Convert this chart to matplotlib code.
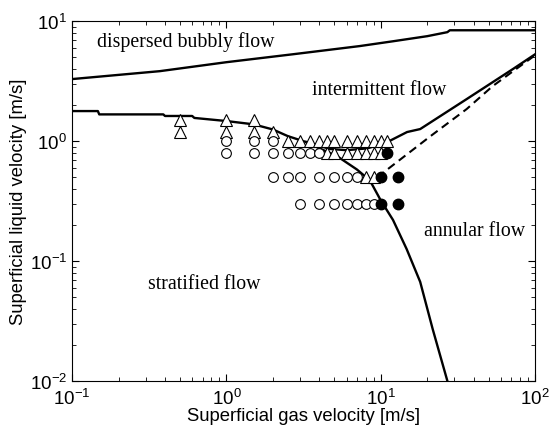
import numpy as np
import matplotlib
matplotlib.use('Agg')
import matplotlib.pyplot as plt

plt.rcParams['font.family'] = ['Liberation Sans', 'DejaVu Sans']
plt.rcParams['mathtext.fontset'] = 'custom'
plt.rcParams['mathtext.rm'] = 'Liberation Sans'
plt.rcParams['mathtext.it'] = 'Liberation Sans'

# limite flujo disperso
disp_x = [0.1, 0.37, 1.0, 2.7, 7.3, 12, 20, 27, 28, 100]
disp_y = [3.29, 3.83, 4.55, 5.3, 6.2, 6.8, 7.5, 8.1, 8.4, 8.4]

# limite estratificado / intermitente / anular
estr_x = [0.1, 0.147, 0.15, 0.39, 0.4, 0.6, 0.62, 1.0, 1.5, 2.0, 2.5, 3.3]
estr_y = [1.78, 1.78, 1.67, 1.67, 1.62, 1.62, 1.56, 1.47, 1.38, 1.25, 1.1, 0.98]

inter_x = [3.3, 4.7, 6.0, 8.2, 11, 14.8, 18, 36, 72, 100]
inter_y = [0.98, 0.86, 0.84, 0.87, 0.98, 1.19, 1.26, 2.24, 4.0, 5.3]

anul_x = [3.3, 4.0, 5.2, 7.0, 8.5, 10, 12, 14.7, 18, 21.7, 27]
anul_y = [0.98, 0.87, 0.75, 0.58, 0.47, 0.32, 0.22, 0.126, 0.067, 0.027, 0.01]

dash_x = [9.5, 21, 36, 53, 72, 100]
dash_y = [0.5, 1.1, 1.85, 2.87, 3.83, 5.2]

# datos experimentales
tri_x = [0.5, 1, 1.5, 0.5, 1, 1.5, 2,
         2.5, 3, 3.5, 4, 4.5, 5, 6, 7, 8, 9, 10, 11,
         4.5, 5, 6, 7, 8, 9, 10,
         8, 9]
tri_y = [1.5, 1.5, 1.5, 1.2, 1.2, 1.2, 1.2,
         1.0, 1.0, 1.0, 1.0, 1.0, 1.0, 1.0, 1.0, 1.0, 1.0, 1.0, 1.0,
         0.8, 0.8, 0.8, 0.8, 0.8, 0.8, 0.8,
         0.5, 0.5]

circ_x = [1, 1.5, 2,
          1, 1.5, 2, 2.5, 3, 3.5, 4,
          2, 2.5, 3, 4, 5, 6, 7,
          3, 4, 5, 6, 7, 8, 9]
circ_y = [1.0, 1.0, 1.0,
          0.8, 0.8, 0.8, 0.8, 0.8, 0.8, 0.8,
          0.5, 0.5, 0.5, 0.5, 0.5, 0.5, 0.5,
          0.3, 0.3, 0.3, 0.3, 0.3, 0.3, 0.3]

fill_x = [11, 10, 13, 10, 13]
fill_y = [0.8, 0.5, 0.5, 0.3, 0.3]

fig = plt.figure(figsize=(5.5, 4.35), dpi=100)
ax = fig.add_axes([0.131, 0.122, 0.842, 0.827])

ax.plot(disp_x, disp_y, 'k-', lw=1.7)
ax.plot(estr_x, estr_y, 'k-', lw=1.7)
ax.plot(inter_x, inter_y, 'k-', lw=1.7)
ax.plot(anul_x, anul_y, 'k-', lw=1.7)
ax.plot(dash_x, dash_y, 'k--', lw=1.5, dashes=(4, 2.5))

ax.plot(tri_x, tri_y, '^', ms=8.5, mfc='white', mec='k', mew=0.8, ls='none')
ax.plot(circ_x, circ_y, 'o', ms=7, mfc='white', mec='k', mew=0.8, ls='none')
ax.plot(fill_x, fill_y, 'o', ms=7.5, mfc='k', mec='k', ls='none')

ax.set_xscale('log')
ax.set_yscale('log')
ax.set_xlim(0.1, 100)
ax.set_ylim(0.01, 10)

ax.tick_params(which='both', direction='in', top=True, right=True, labelsize=13.5)
ax.tick_params(which='major', length=5)
ax.tick_params(which='minor', length=3)
ax.tick_params(axis='x', pad=5)

ax.set_xlabel('Superficial gas velocity [m/s]', fontsize=13.3, labelpad=-1)
ax.set_ylabel('Superficial liquid velocity [m/s]', fontsize=13.3, labelpad=2)

serif = ['Liberation Serif', 'DejaVu Serif']
ax.text(0.145, 6.8, 'dispersed bubbly flow', family=serif, fontsize=14.3, va='center')
ax.text(3.6, 2.7, 'intermittent flow', family=serif, fontsize=14.3, va='center')
ax.text(0.31, 0.065, 'stratified flow', family=serif, fontsize=14.3, va='center')
ax.text(19, 0.18, 'annular flow', family=serif, fontsize=14.3, va='center')

fig.savefig('out.png', dpi=100)
